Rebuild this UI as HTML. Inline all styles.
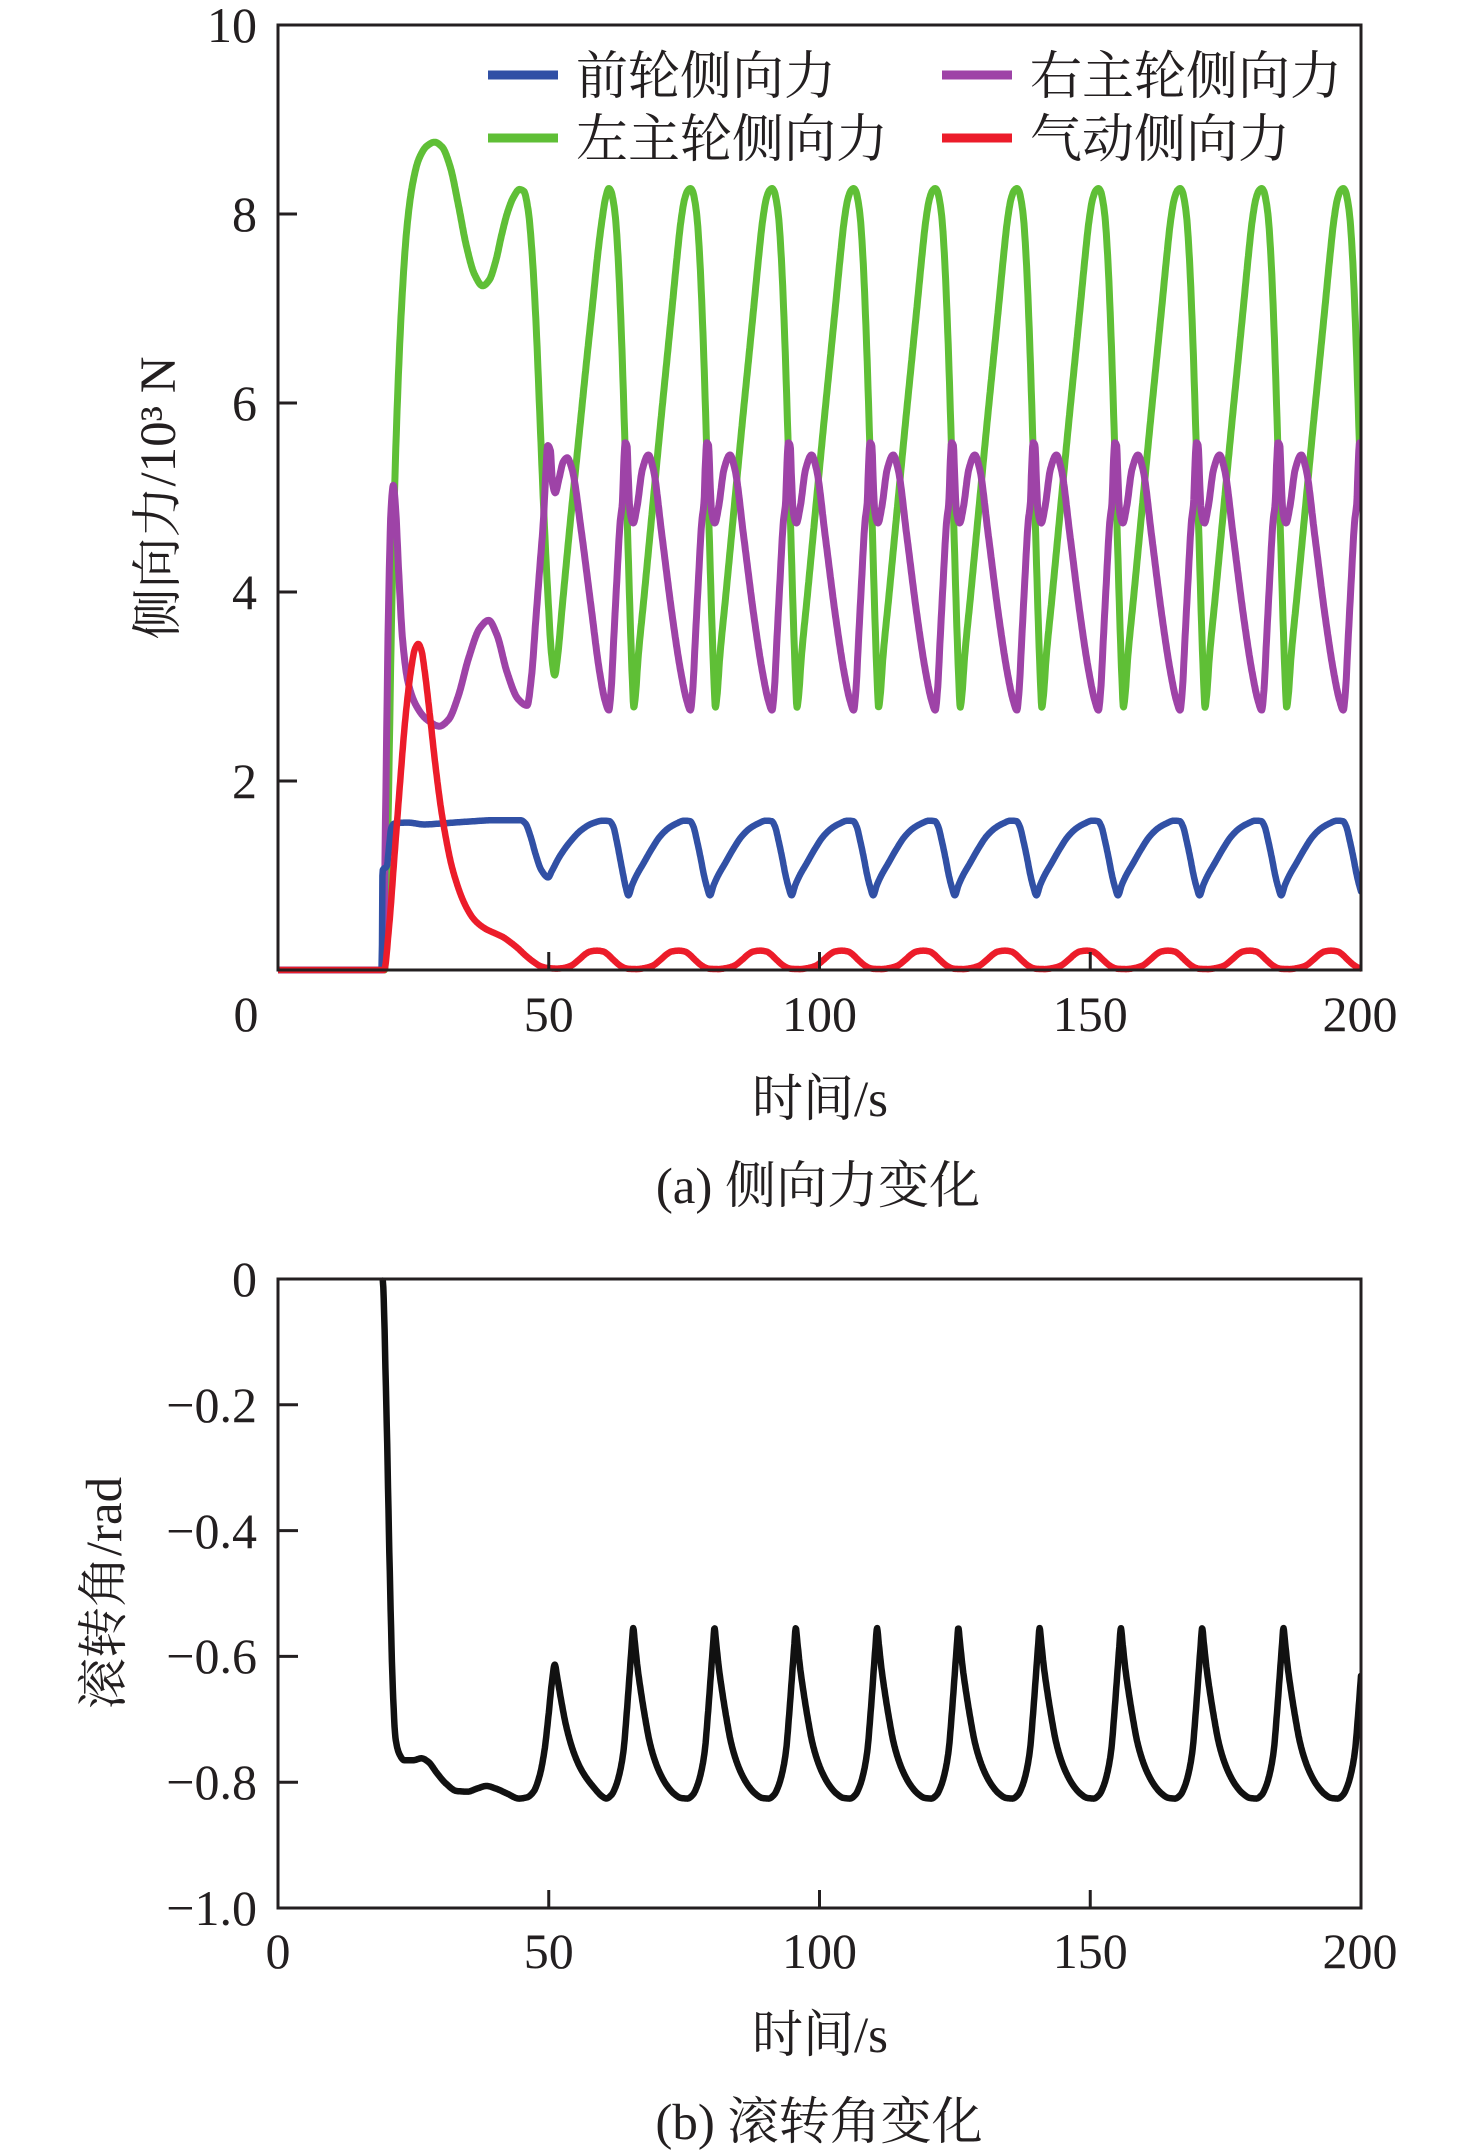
<!DOCTYPE html>
<html>
<head>
<meta charset="utf-8">
<style>
html,body{margin:0;padding:0;background:#fff;}
body{width:1476px;height:2154px;overflow:hidden;}
svg{display:block;}
.num{font-family:"Liberation Serif","Noto Serif CJK SC",serif;font-size:50px;fill:#231f20;}
.cjk{font-family:"Liberation Serif","Noto Serif CJK SC",serif;font-size:51px;fill:#231f20;}
.leg{font-family:"Liberation Serif","Noto Serif CJK SC",serif;font-size:52px;fill:#231f20;}
</style>
</head>
<body>
<svg id="svg" width="1476" height="2154" viewBox="0 0 1476 2154" xmlns="http://www.w3.org/2000/svg">
<rect x="0" y="0" width="1476" height="2154" fill="#fff"/>
<defs>
<clipPath id="c1"><rect x="278" y="20" width="1083" height="955"/></clipPath>
<clipPath id="c2"><rect x="278" y="1274" width="1083" height="638"/></clipPath>
</defs>

<!-- top plot data -->
<g clip-path="url(#c1)" fill="none" stroke-linejoin="round" stroke-linecap="round">
<path id="pg" stroke="#5fbf36" stroke-width="7" d=""/>
<path id="pp" stroke="#9e43a7" stroke-width="7" d=""/>
<path id="pb" stroke="#3150a5" stroke-width="6.5" d=""/>
<path id="pr" stroke="#ec1c2a" stroke-width="6.5" d=""/>
</g>

<!-- top plot frame & ticks -->
<g stroke="#231f20" stroke-width="3" fill="none">
<rect x="278" y="25" width="1083" height="945"/>
<line x1="278" y1="781" x2="297" y2="781"/>
<line x1="278" y1="592" x2="297" y2="592"/>
<line x1="278" y1="403" x2="297" y2="403"/>
<line x1="278" y1="214" x2="297" y2="214"/>
<line x1="548.75" y1="970" x2="548.75" y2="952"/>
<line x1="819.5" y1="970" x2="819.5" y2="952"/>
<line x1="1090.25" y1="970" x2="1090.25" y2="952"/>
</g>

<!-- legend -->
<g stroke-width="9">
<line x1="488" y1="75" x2="558" y2="75" stroke="#3150a5"/>
<line x1="488" y1="138" x2="558" y2="138" stroke="#5fbf36"/>
<line x1="942" y1="75" x2="1012" y2="75" stroke="#9e43a7"/>
<line x1="942" y1="138" x2="1012" y2="138" stroke="#ec1c2a"/>
</g>
<text class="leg" x="576" y="94">前轮侧向力</text>
<text class="leg" x="576" y="157">左主轮侧向力</text>
<text class="leg" x="1030" y="94">右主轮侧向力</text>
<text class="leg" x="1030" y="157">气动侧向力</text>

<!-- top plot tick labels -->
<g class="num" text-anchor="end">
<text x="257" y="42">10</text>
<text x="257" y="231">8</text>
<text x="257" y="420">6</text>
<text x="257" y="609">4</text>
<text x="257" y="798">2</text>
</g>
<g class="num" text-anchor="middle">
<text x="246" y="1031">0</text>
<text x="548.75" y="1031">50</text>
<text x="819.5" y="1031">100</text>
<text x="1090.25" y="1031">150</text>
<text x="1360" y="1031">200</text>
</g>
<text class="cjk" transform="translate(175,498) rotate(-90)" text-anchor="middle">侧向力/10³ N</text>
<text class="cjk" x="820" y="1116" text-anchor="middle">时间/s</text>
<text class="cjk" x="818" y="1203" text-anchor="middle">(a) 侧向力变化</text>

<!-- bottom plot data -->
<g clip-path="url(#c2)" fill="none" stroke-width="6.5" stroke-linejoin="round" stroke-linecap="round">
<path id="pv" stroke="#111" d=""/>
</g>

<!-- bottom plot frame & ticks -->
<g stroke="#231f20" stroke-width="3" fill="none">
<rect x="278" y="1279" width="1083" height="629"/>
<line x1="278" y1="1404.8" x2="298" y2="1404.8"/>
<line x1="278" y1="1530.6" x2="298" y2="1530.6"/>
<line x1="278" y1="1656.4" x2="298" y2="1656.4"/>
<line x1="278" y1="1782.2" x2="298" y2="1782.2"/>
<line x1="548.75" y1="1908" x2="548.75" y2="1890"/>
<line x1="819.5" y1="1908" x2="819.5" y2="1890"/>
<line x1="1090.25" y1="1908" x2="1090.25" y2="1890"/>
</g>
<g class="num" text-anchor="end">
<text x="257" y="1296">0</text>
<text x="257" y="1422">−0.2</text>
<text x="257" y="1548">−0.4</text>
<text x="257" y="1673">−0.6</text>
<text x="257" y="1799">−0.8</text>
<text x="257" y="1925">−1.0</text>
</g>
<g class="num" text-anchor="middle">
<text x="278" y="1968">0</text>
<text x="548.75" y="1968">50</text>
<text x="819.5" y="1968">100</text>
<text x="1090.25" y="1968">150</text>
<text x="1360" y="1968">200</text>
</g>
<text class="cjk" transform="translate(121,1593) rotate(-90)" text-anchor="middle">滚转角/rad</text>
<text class="cjk" x="820" y="2052" text-anchor="middle">时间/s</text>
<text class="cjk" x="819" y="2139" text-anchor="middle">(b) 滚转角变化</text>
</svg>

<script>
(function(){
function mono(P){
  P.sort(function(a,b){return a[0]-b[0];});
  var Q=[];
  for(var i=0;i<P.length;i++){ if(!Q.length||P[i][0]>Q[Q.length-1][0]+1e-9) Q.push(P[i]); }
  var n=Q.length,x=[],y=[],d=[],m=[];
  for(i=0;i<n;i++){x.push(Q[i][0]);y.push(Q[i][1]);m.push(0);}
  for(i=0;i<n-1;i++) d[i]=(y[i+1]-y[i])/(x[i+1]-x[i]);
  for(i=1;i<n-1;i++){
    if(d[i-1]*d[i]<=0){m[i]=0;continue;}
    var h0=x[i]-x[i-1],h1=x[i+1]-x[i];
    var w1=2*h1+h0,w2=h1+2*h0;
    m[i]=(w1+w2)/(w1/d[i-1]+w2/d[i]);
  }
  var j=0;
  return function(t){
    if(t<=x[0]) return y[0];
    if(t>=x[n-1]) return y[n-1];
    while(j<n-2&&x[j+1]<t) j++;
    while(j>0&&x[j]>t) j--;
    var h=x[j+1]-x[j],s=(t-x[j])/h,s2=s*s,s3=s2*s;
    return (2*s3-3*s2+1)*y[j]+(s3-2*s2+s)*h*m[j]+(-2*s3+3*s2)*y[j+1]+(s3-s2)*h*m[j+1];
  };
}
function periodic(shape,t0,per,kmax){
  var out=[];
  for(var k=0;k<=kmax;k++) for(var i=0;i<shape.length;i++) out.push([t0+k*per+shape[i][0],shape[i][1]]);
  return out;
}
var T=15.07,TP0=61.1;
function X(t){return 278+t*5.415;}
function Yt(F){return 970-F*94.5;}
function Yb(v){return 1279-v*629;}
function path(f,Y,t0){
  var s='',first=true;
  t0=t0||0;
  for(var i=0;i<=2500;i++){var t=i*0.08; if(t<t0) continue; s+=(first?'M':'L')+X(t).toFixed(1)+' '+Y(f(t)).toFixed(1); first=false;}
  return s;
}
// Green
var gT=[[0,0],[19.7,0],[20.3,1.5],[21.0,3.8],[21.8,5.6],[22.8,7.0],[23.8,7.85],[24.8,8.3],[26,8.58],[27.5,8.72],[28.9,8.76],[30.3,8.71],[31.8,8.5],[33.3,8.1],[34.8,7.66],[36.3,7.36],[37.8,7.24],[39.0,7.3],[40.2,7.5],[41.3,7.78],[42.4,8.02],[43.5,8.18],[44.6,8.26],[45.4,8.24],[46.2,8.04],[46.9,7.6],[47.6,6.9],[48.4,5.8],[49.2,4.7],[49.9,3.9],[50.5,3.35],[51.1,3.12],
[51.6,3.3],[52.5,3.85],[54,4.75],[55.5,5.6],[57,6.45],[58.2,7.1],[59.0,7.55],[59.8,7.92],[60.5,8.17]];
var gS=[[0,8.27],[0.4,8.24],[0.8,8.14],[1.2,7.97],[1.7,7.55],[2.3,6.75],[2.9,5.7],[3.5,4.55],[4.0,3.6],[4.35,3.05],[4.6,2.78],[4.9,2.9],[5.4,3.3],[6.5,3.95],[8,4.85],[9.5,5.75],[10.8,6.5],[11.8,7.08],[12.6,7.55],[13.3,7.92],[14.0,8.16],[14.6,8.25]];
var g=mono(gT.concat(periodic(gS,TP0,T,9)));
// Purple
var pT=[[0,0],[19.4,0],[19.9,1.8],[20.4,3.8],[20.9,4.9],[21.3,5.13],[21.7,4.9],[22.3,4.2],[23.0,3.5],[24,3.05],[25.5,2.8],[27.5,2.65],[29.8,2.58],[31.5,2.65],[33.3,2.9],[35.2,3.3],[37.3,3.62],[38.9,3.7],[40.4,3.55],[42.3,3.15],[44.3,2.87],[46.0,2.8],[46.8,3.1],[47.6,3.7],[48.4,4.3],[49.0,4.75],[49.4,5.2],[49.8,5.55],[50.3,5.5],[50.7,5.15],[51.2,5.05],[51.9,5.2],[52.7,5.38],[53.4,5.42],[54.3,5.3],[56.0,4.65],[57.8,3.85],[59.4,3.15],[60.4,2.85]];
var pS=[[0,2.75],[0.4,2.95],[0.9,3.5],[1.4,4.05],[2.1,4.75],[2.5,4.95],[2.75,5.35],[3.0,5.58],[3.35,5.55],[3.6,5.2],[3.9,4.85],[4.5,4.73],[5.2,4.9],[6.2,5.3],[7.3,5.45],[8.2,5.3],[9.8,4.6],[11.7,3.75],[13.3,3.15],[14.4,2.85]];
var p=mono(pT.concat(periodic(pS,TP0,T,9)));
// Blue
var bT=[[0,0],[19.15,0],[19.3,1.05],[20.1,1.1],[20.5,1.3],[20.9,1.5],[21.5,1.55],[24,1.56],[27,1.54],[30,1.55],[35,1.57],[40,1.585],[44.8,1.585],[45.7,1.55],[46.6,1.42],[47.6,1.22],[48.6,1.06],[49.9,0.98],[50.6,1.05],[52,1.2],[54,1.36],[56,1.48],[58,1.55],[60,1.58],[61.2,1.575],[61.9,1.52],[62.6,1.35],[63.2,1.17],[63.7,1.02],[64.2,0.88]];
var bS=[[0,0.79],[0.7,0.9],[1.5,1.0],[2.8,1.13],[4.3,1.28],[5.8,1.41],[7.4,1.5],[8.9,1.55],[10.3,1.58],[11.4,1.575],[12.0,1.52],[12.7,1.36],[13.4,1.17],[13.9,1.02],[14.5,0.88]];
var b=mono(bT.concat(periodic(bS,TP0+3.6,T,9)));
// Red
var rT=[[0,0],[19.6,0],[20.5,0.45],[21.5,1.2],[22.5,1.95],[23.5,2.65],[24.5,3.15],[25.3,3.4],[25.9,3.45],[26.5,3.38],[27,3.2],[28,2.72],[29,2.2],[30,1.75],[31,1.4],[32,1.12],[33,0.92],[34,0.76],[35,0.64],[36,0.55],[37,0.49],[38.5,0.43],[40,0.39],[41.5,0.35],[43,0.29],[44.3,0.23],[45.6,0.16],[47.1,0.09],[48.5,0.04],[49.9,0.02],[51.5,0.015]];
var rS=[[-8.5,0.02],[-7,0.045],[-5.5,0.11],[-4.3,0.17],[-3.5,0.195],[-2.2,0.205],[-1.0,0.195],[-0.3,0.17],[0.8,0.11],[2.0,0.05],[3.0,0.02],[3.7,0.012],[5.2,0.01]];
var r=mono(rT.concat(periodic(rS,TP0,T,9)));
// Roll
var vT=[[19.3,0],[20.0,-0.2],[20.6,-0.45],[21.2,-0.65],[21.7,-0.73],[22.4,-0.755],[23.3,-0.765],[25,-0.765],[26.5,-0.762],[27.8,-0.768],[29.3,-0.785],[31,-0.802],[33,-0.814],[35,-0.815],[36.8,-0.81],[38.5,-0.806],[40.2,-0.81],[42.3,-0.818],[44.5,-0.826],[46,-0.824],[47.2,-0.815],[48.3,-0.79],[49.2,-0.75],[50,-0.69],[50.6,-0.64],[51.1,-0.613],[51.6,-0.635],[52.3,-0.67],[53.2,-0.71],[54.5,-0.75],[56,-0.78],[58,-0.805],[60.3,-0.825]];
var vS=[[-5,-0.826],[-4,-0.82],[-3.2,-0.806],[-2.5,-0.785],[-1.8,-0.75],[-1.2,-0.69],[-0.7,-0.632],[-0.3,-0.585],[0,-0.555],[0.3,-0.578],[0.8,-0.618],[1.4,-0.655],[2.2,-0.698],[3.0,-0.735],[3.9,-0.763],[4.9,-0.785],[6.2,-0.805],[7.5,-0.818],[8.8,-0.825]];
var v=mono(vT.concat(periodic(vS,65.6,15.01,9)));

document.getElementById('pg').setAttribute('d',path(g,Yt));
document.getElementById('pp').setAttribute('d',path(p,Yt));
document.getElementById('pb').setAttribute('d',path(b,Yt));
document.getElementById('pr').setAttribute('d',path(r,Yt));
document.getElementById('pv').setAttribute('d',path(v,Yb,19.3));
})();
</script>
</body>
</html>
